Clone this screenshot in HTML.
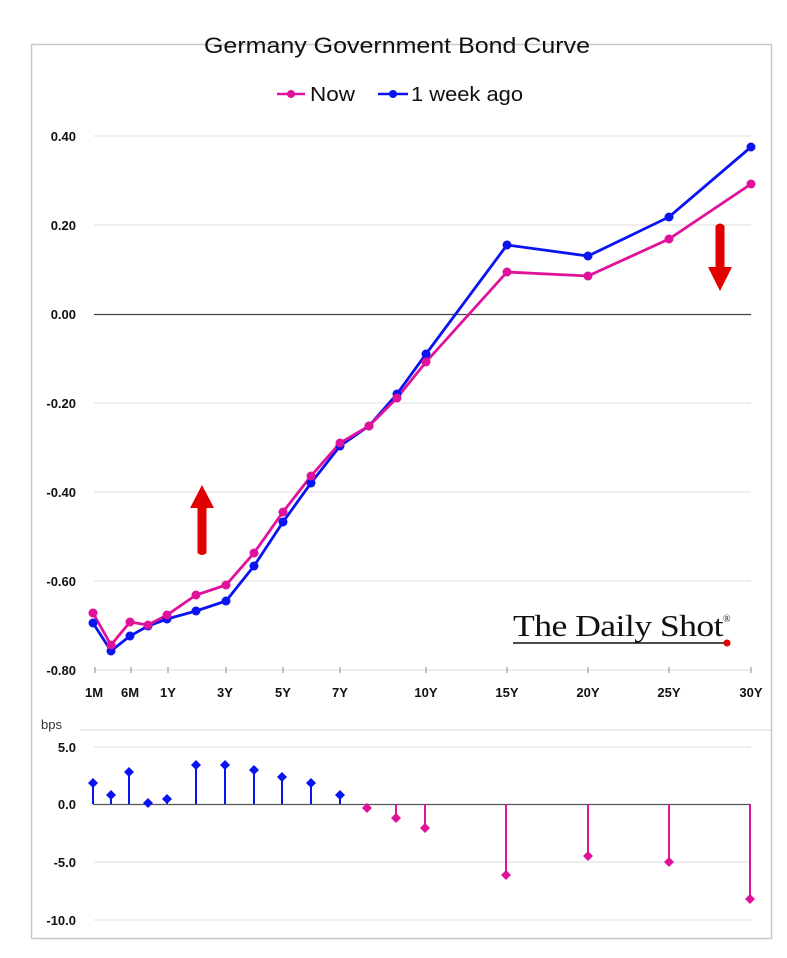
<!DOCTYPE html>
<html><head><meta charset="utf-8"><style>
html,body{margin:0;padding:0;background:#fff;}
svg{display:block;}
text{font-family:"Liberation Sans",sans-serif;}
.yl{font-size:13px;font-weight:bold;text-anchor:end;fill:#111;}
.xl{font-size:13px;font-weight:bold;text-anchor:middle;fill:#111;}
</style></head><body>
<svg width="787" height="958" viewBox="0 0 787 958" xmlns="http://www.w3.org/2000/svg">
<rect x="31.5" y="44.5" width="740" height="894" fill="#fff" stroke="#c8c8c8" stroke-width="1.5"/>
<text x="204" y="53" font-size="22" textLength="386" lengthAdjust="spacingAndGlyphs" fill="#111">Germany Government Bond Curve</text>
<g>
<line x1="277" y1="94" x2="305" y2="94" stroke="#e0119b" stroke-width="2.5"/><circle cx="291" cy="94" r="4" fill="#e0119b"/>
<text x="310" y="101" font-size="20" textLength="45" lengthAdjust="spacingAndGlyphs" fill="#111">Now</text>
<line x1="378" y1="94" x2="408" y2="94" stroke="#0a14f0" stroke-width="2.5"/><circle cx="393" cy="94" r="4" fill="#0a14f0"/>
<text x="411" y="101" font-size="20" textLength="112" lengthAdjust="spacingAndGlyphs" fill="#111">1 week ago</text>
</g>
<g stroke="#e3e3e3" stroke-width="1.2">
<line x1="94" y1="136" x2="751" y2="136"/><line x1="94" y1="225" x2="751" y2="225"/>
<line x1="94" y1="403" x2="751" y2="403"/><line x1="94" y1="492" x2="751" y2="492"/>
<line x1="94" y1="581" x2="751" y2="581"/><line x1="94" y1="670" x2="751" y2="670"/>
<line x1="94" y1="747" x2="751" y2="747"/><line x1="94" y1="862" x2="751" y2="862"/><line x1="94" y1="920" x2="751" y2="920"/>
<line x1="80" y1="730" x2="771" y2="730"/>
</g>
<line x1="94" y1="314.5" x2="751" y2="314.5" stroke="#444" stroke-width="1.3"/>
<g stroke="#888" stroke-width="1">
<line x1="95" y1="667" x2="95" y2="673"/><line x1="131" y1="667" x2="131" y2="673"/><line x1="168" y1="667" x2="168" y2="673"/><line x1="226" y1="667" x2="226" y2="673"/><line x1="283" y1="667" x2="283" y2="673"/><line x1="340" y1="667" x2="340" y2="673"/><line x1="426" y1="667" x2="426" y2="673"/><line x1="507" y1="667" x2="507" y2="673"/><line x1="588" y1="667" x2="588" y2="673"/><line x1="669" y1="667" x2="669" y2="673"/><line x1="751" y1="667" x2="751" y2="673"/>
</g>
<text class="yl" x="76" y="141">0.40</text><text class="yl" x="76" y="230">0.20</text><text class="yl" x="76" y="319">0.00</text>
<text class="yl" x="76" y="408">-0.20</text><text class="yl" x="76" y="497">-0.40</text><text class="yl" x="76" y="586">-0.60</text><text class="yl" x="76" y="675">-0.80</text>
<g><text class="xl" x="94" y="697">1M</text><text class="xl" x="130" y="697">6M</text><text class="xl" x="168" y="697">1Y</text><text class="xl" x="225" y="697">3Y</text><text class="xl" x="283" y="697">5Y</text><text class="xl" x="340" y="697">7Y</text><text class="xl" x="426" y="697">10Y</text><text class="xl" x="507" y="697">15Y</text><text class="xl" x="588" y="697">20Y</text><text class="xl" x="669" y="697">25Y</text><text class="xl" x="751" y="697">30Y</text></g>
<polyline fill="none" stroke="#0a14f0" stroke-width="2.8" points="93,623 111,651 130,636 148,626 167,619 196,611 226,601 254,566 283,522 311,483 340,446 369,426 397,394 426,354 507,245 588,256 669,217 751,147"/>
<polyline fill="none" stroke="#e0119b" stroke-width="2.8" points="93,613 111,645 130,622 148,625 167,615 196,595 226,585 254,553 283,512 311,476 340,443 369,426 397,398 426,362 507,272 588,276 669,239 751,184"/>
<g fill="#0a14f0">
<circle cx="93" cy="623" r="4.5"/><circle cx="111" cy="651" r="4.5"/><circle cx="130" cy="636" r="4.5"/><circle cx="148" cy="626" r="4.5"/><circle cx="167" cy="619" r="4.5"/><circle cx="196" cy="611" r="4.5"/><circle cx="226" cy="601" r="4.5"/><circle cx="254" cy="566" r="4.5"/><circle cx="283" cy="522" r="4.5"/><circle cx="311" cy="483" r="4.5"/><circle cx="340" cy="446" r="4.5"/><circle cx="369" cy="426" r="4.5"/><circle cx="397" cy="394" r="4.5"/><circle cx="426" cy="354" r="4.5"/><circle cx="507" cy="245" r="4.5"/><circle cx="588" cy="256" r="4.5"/><circle cx="669" cy="217" r="4.5"/><circle cx="751" cy="147" r="4.5"/>
</g>
<g fill="#e0119b">
<circle cx="93" cy="613" r="4.5"/><circle cx="111" cy="645" r="4.5"/><circle cx="130" cy="622" r="4.5"/><circle cx="148" cy="625" r="4.5"/><circle cx="167" cy="615" r="4.5"/><circle cx="196" cy="595" r="4.5"/><circle cx="226" cy="585" r="4.5"/><circle cx="254" cy="553" r="4.5"/><circle cx="283" cy="512" r="4.5"/><circle cx="311" cy="476" r="4.5"/><circle cx="340" cy="443" r="4.5"/><circle cx="369" cy="426" r="4.5"/><circle cx="397" cy="398" r="4.5"/><circle cx="426" cy="362" r="4.5"/><circle cx="507" cy="272" r="4.5"/><circle cx="588" cy="276" r="4.5"/><circle cx="669" cy="239" r="4.5"/><circle cx="751" cy="184" r="4.5"/>
</g>
<path d="M202,485 L214,508 L206.5,508 L206.5,553 Q202,557 197.5,553 L197.5,508 L190,508 Z" fill="#e00000"/>
<path d="M720,291 L732,267 L724.5,267 L724.5,226 Q720,221 715.5,226 L715.5,267 L708,267 Z" fill="#e00000"/>
<text x="513" y="636" style="font-family:'Liberation Serif',serif;font-size:31px;letter-spacing:-0.5px" textLength="210" lengthAdjust="spacingAndGlyphs" fill="#111">The Daily Shot</text>
<text x="723" y="622" style="font-family:'Liberation Serif',serif;font-size:10px" fill="#111">®</text>
<line x1="513" y1="643" x2="725" y2="643" stroke="#111" stroke-width="1.5"/>
<circle cx="727" cy="643" r="3.5" fill="#e00000"/>
<text x="41" y="729" font-size="13" fill="#333">bps</text>
<text class="yl" x="76" y="752">5.0</text><text class="yl" x="76" y="809">0.0</text><text class="yl" x="76" y="867">-5.0</text><text class="yl" x="76" y="925">-10.0</text>
<g stroke="#0a14f0" stroke-width="2"><line x1="93" y1="804" x2="93" y2="783"/><line x1="111" y1="804" x2="111" y2="795"/><line x1="129" y1="804" x2="129" y2="772"/><line x1="148" y1="804" x2="148" y2="803"/><line x1="167" y1="804" x2="167" y2="799"/><line x1="196" y1="804" x2="196" y2="765"/><line x1="225" y1="804" x2="225" y2="765"/><line x1="254" y1="804" x2="254" y2="770"/><line x1="282" y1="804" x2="282" y2="777"/><line x1="311" y1="804" x2="311" y2="783"/><line x1="340" y1="804" x2="340" y2="795"/></g>
<line x1="93" y1="804.5" x2="751" y2="804.5" stroke="#555" stroke-width="1.3"/>
<g stroke="#e0119b" stroke-width="2"><line x1="367" y1="804" x2="367" y2="808"/><line x1="396" y1="804" x2="396" y2="818"/><line x1="425" y1="804" x2="425" y2="828"/><line x1="506" y1="804" x2="506" y2="875"/><line x1="588" y1="804" x2="588" y2="856"/><line x1="669" y1="804" x2="669" y2="862"/><line x1="750" y1="804" x2="750" y2="899"/></g>
<g fill="#0a14f0"><path d="M93,778l5,5-5,5-5-5z"/><path d="M111,790l5,5-5,5-5-5z"/><path d="M129,767l5,5-5,5-5-5z"/><path d="M148,798l5,5-5,5-5-5z"/><path d="M167,794l5,5-5,5-5-5z"/><path d="M196,760l5,5-5,5-5-5z"/><path d="M225,760l5,5-5,5-5-5z"/><path d="M254,765l5,5-5,5-5-5z"/><path d="M282,772l5,5-5,5-5-5z"/><path d="M311,778l5,5-5,5-5-5z"/><path d="M340,790l5,5-5,5-5-5z"/></g>
<g fill="#e0119b"><path d="M367,803l5,5-5,5-5-5z"/><path d="M396,813l5,5-5,5-5-5z"/><path d="M425,823l5,5-5,5-5-5z"/><path d="M506,870l5,5-5,5-5-5z"/><path d="M588,851l5,5-5,5-5-5z"/><path d="M669,857l5,5-5,5-5-5z"/><path d="M750,894l5,5-5,5-5-5z"/></g>
</svg>
</body></html>
